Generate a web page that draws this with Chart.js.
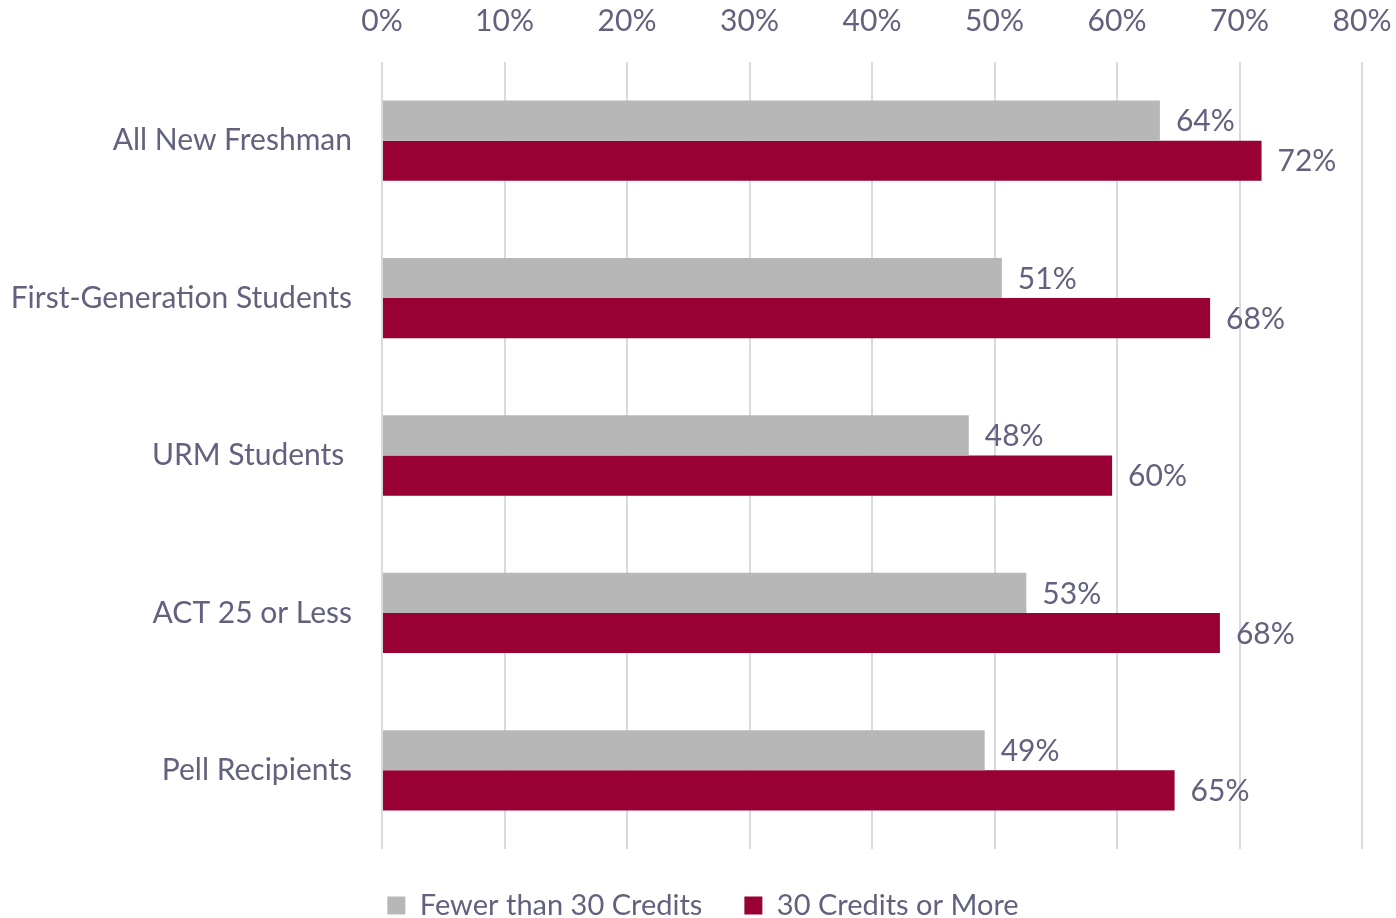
<!DOCTYPE html>
<html>
<head>
<meta charset="utf-8">
<script src="https://cdn.jsdelivr.net/npm/chart.js@4"></script>
<style>
  html, body { margin: 0; padding: 0; background: #fff; }
  #wrap { width: 1396px; height: 918px; }
</style>
</head>
<body>
<div id="wrap"><canvas id="creditsChart"></canvas></div>
<script>
const categories = ["All New Freshman", "First-Generation Students", "URM Students ", "ACT 25 or Less", "Pell Recipients"];
const fewerThan30 = [63.5, 50.6, 47.9, 52.6, 49.2];
const thirtyOrMore = [71.8, 67.6, 59.6, 68.4, 64.7];
const seriesNames = ["Fewer than 30 Credits", "30 Credits or More"];

const TEXT = "#62627f";
const FONT = "Lato, 'Open Sans', sans-serif";
const SIZE = 30;

// value labels at the end of each bar
const barLabels = {
  id: "barLabels",
  afterDatasetsDraw(chart) {
    const ctx = chart.ctx;
    ctx.save();
    ctx.font = SIZE + "px " + FONT;
    ctx.fillStyle = TEXT;
    ctx.textAlign = "left";
    ctx.textBaseline = "middle";
    chart.data.datasets.forEach((ds, i) => {
      chart.getDatasetMeta(i).data.forEach((bar, j) => {
        ctx.fillText(Math.round(ds.data[j]) + "%", bar.x + 16, bar.y + 1);
      });
    });
    ctx.restore();
  }
};

new Chart(document.getElementById("creditsChart"), {
  type: "bar",
  data: {
    labels: categories,
    datasets: [
      { label: seriesNames[0], data: fewerThan30, backgroundColor: "#b7b7b7" },
      { label: seriesNames[1], data: thirtyOrMore, backgroundColor: "#990033" }
    ]
  },
  options: {
    indexAxis: "y",
    responsive: true,
    maintainAspectRatio: false,
    animation: false,
    categoryPercentage: 0.51,
    barPercentage: 1,
    layout: { padding: { left: 10, right: 0, top: -20, bottom: -12 } },
    scales: {
      x: {
        position: "top",
        min: 0,
        max: 80,
        afterFit(scale) {
          scale.paddingLeft = 0;
          scale.paddingRight = 34;
        },
        ticks: {
          stepSize: 10,
          padding: 23,
          color: TEXT,
          font: { family: FONT, size: SIZE },
          callback: v => v + "%"
        },
        grid: { color: "#d9d9e1", lineWidth: 2, drawTicks: false },
        border: { display: false }
      },
      y: {
        afterFit(scale) {
          scale.width = 372;
        },
        ticks: {
          padding: 30,
          color: TEXT,
          font: { family: FONT, size: SIZE }
        },
        grid: { display: false, drawTicks: false },
        border: { display: false }
      }
    },
    plugins: {
      legend: {
        position: "bottom",
        labels: {
          boxWidth: 18,
          boxHeight: 18,
          padding: 42,
          color: TEXT,
          font: { family: FONT, size: 29 }
        }
      },
      tooltip: { enabled: false }
    }
  },
  plugins: [barLabels]
});
</script>
</body>
</html>
